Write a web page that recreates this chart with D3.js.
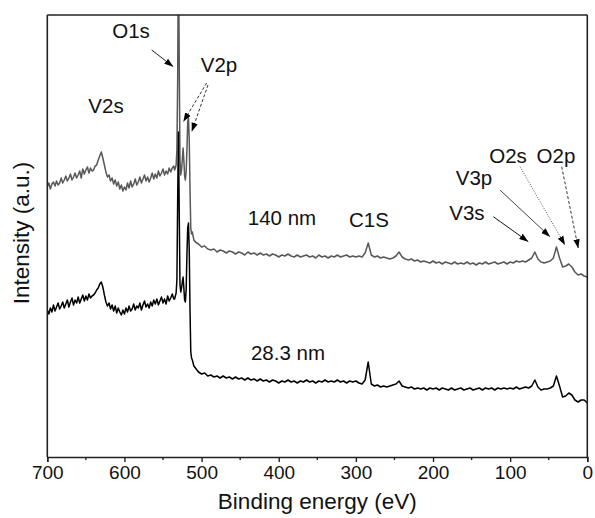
<!DOCTYPE html>
<html><head><meta charset="utf-8">
<script src="https://cdn.jsdelivr.net/npm/d3@7"></script>
<style>body{margin:0;background:#fff;} text{font-family:"Liberation Sans", Arial, sans-serif;}</style>
</head><body><svg id="chart" width="595" height="518"></svg>
<script>
// Binding energy (eV) sampling
const energy = [
700,698,696,694,692,690,688,686,684,682,680,678,676,674,672,670,668,666,664,662,
660,658,656,654,652,650,648,646,644,642,640,638,636,634,632,630,628,626,624,622,
620,618,616,614,612,610,608,606,604,602,600,598,596,594,592,590,588,586,584,582,
580,578,576,574,572,570,568,566,564,562,560,558,556,554,552,550,548,546,544,542,
540,538,536,
535,534,533,532,531,530,529,528,527,526,525,524,523,522,521,520,519,518,517,516,
515,514,513,512,511,510,
508,504,500,496,492,488,484,480,476,472,468,464,460,456,452,448,444,440,436,432,
428,424,420,416,412,408,404,400,396,392,388,384,380,376,372,368,364,360,356,352,
348,344,340,336,332,328,324,320,316,312,308,304,300,296,292,288,284,280,276,272,
268,264,260,256,252,248,244,240,236,232,228,224,220,216,212,208,204,200,196,192,
188,184,180,176,172,168,164,160,156,152,148,144,140,136,132,128,124,120,116,112,
108,104,100,96,92,88,84,80,76,72,68,64,60,56,52,48,44,40,36,32,
28,24,20,16,12,8,4,0];

// 140 nm film (grey curve), intensity a.u.
const thick140 = [
270,274,268,273,275,271,276,272,274,279,
274,277,281,276,279,283,277,280,284,279,
282,286,279,288,283,287,290,284,289,286,
287,291,292,297,301,305,299,292,285,280,
282,276,279,273,277,271,275,268,272,266,
270,267,274,269,276,270,273,278,272,275,
280,274,278,282,276,280,275,279,284,278,
283,279,286,281,284,288,282,286,283,289,
285,289,291,
287,289,292,307,377,520,397,297,282,287,297,309,297,281,277,285,307,335,339,317,
267,229,223,225,221,217,
215,213,210,211,208,207,208,205,207,206,
204,206,205,203,205,204,202,205,203,204,
202,204,202,203,201,203,202,200,202,201,
203,201,200,202,200,201,202,200,201,199,
202,200,201,199,201,200,202,200,201,202,
200,201,200,201,200,204,214,202,200,201,
199,200,199,198,199,201,205,200,198,197,
198,196,197,195,196,195,194,196,194,195,
193,195,194,193,195,193,194,193,195,193,
194,192,194,193,195,193,194,195,193,194,
195,193,195,194,196,195,196,195,197,199,
205,198,195,194,195,196,199,210,199,190,
191,193,190,185,182,183,181,180];

// 28.3 nm film (black curve), intensity a.u.
const thick28 = [
147,143,149,145,152,146,150,154,148,151,
155,149,153,157,150,155,159,152,157,154,
160,154,158,162,156,161,157,163,159,161,
162,164,167,169,173,175,170,162,155,151,
154,148,152,146,151,144,149,145,142,147,
143,149,145,151,146,148,153,147,151,149,
154,147,152,156,150,153,149,155,151,157,
153,158,152,156,160,154,158,153,161,156,
159,163,158,
158,161,164,177,257,325,247,172,165,169,175,180,169,157,155,167,202,229,234,207,
147,105,99,97,94,91,
89,85,83,84,81,82,80,81,79,81,
79,80,78,80,78,79,77,79,77,78,
76,78,76,77,75,77,76,74,76,75,
77,75,76,74,76,75,77,75,76,74,
76,75,77,75,76,75,77,75,76,74,
76,75,76,74,73,77,95,73,71,72,
70,71,70,71,72,73,76,71,70,69,
70,68,69,68,69,67,69,68,69,67,
69,68,67,69,67,68,69,67,68,69,
67,68,69,67,69,68,69,67,69,68,
69,68,69,68,70,68,69,70,69,71,
77,70,67,68,68,69,71,81,71,60,
61,64,62,57,55,57,57,54];

const xTicks = [700,600,500,400,300,200,100,0];
const xMinorTicks = [650,550,450,350,250,150,50];
const seriesNames = ["140 nm","28.3 nm"];
const seriesColors = ["#585858","#000000"];

// annotation labels: text, energy, intensity
const labelText = ["O1s","V2p","V2s","140 nm","C1S","28.3 nm","V3s","V3p","O2s","O2p"];
const labelE =    [591.5,477.4,623.9,395.8,283,388,156,146.9,102.8,40.6];
const labelI =    [419,385,344,232,230,97,237,272,294,294];

// arrows: from (e0,i0) to (e1,i1), dash style
const arrowE0 = [564.7,493.4,491.7,121.8,113.2,87.2,33.2];
const arrowI0 = [407,374,372,240.3,267,290.3,290.3];
const arrowE1 = [536.7,523.7,512.8,76.5,48.4,28.9,11.7];
const arrowI1 = [390.3,335.3,325.3,215.3,220.3,212,208.7];
const arrowDash = ["none","3,2","3,2","none","none","1,1.5","3,2"];
const arrowColor = ["#222","#333","#333","#111","#444","#555","#333"];

const W = 595, H = 518;
const m = {left:47.3, right:7.7, top:15, bottom:61};
const svg = d3.select("#chart");
const x = d3.scaleLinear().domain([700,0]).range([m.left, W-m.right]);
const y = d3.scaleLinear().domain([0,442]).range([H-m.bottom, m.top]);

const defs = svg.append("defs");
defs.append("clipPath").attr("id","clip")
  .append("rect").attr("x",m.left).attr("y",m.top)
  .attr("width",W-m.left-m.right).attr("height",H-m.top-m.bottom);
defs.append("marker").attr("id","ah").attr("viewBox","0 -4 9 8")
  .attr("refX",9).attr("refY",0).attr("markerWidth",9).attr("markerHeight",8)
  .attr("markerUnits","userSpaceOnUse").attr("orient","auto")
  .append("path").attr("d","M0,-3.2L9,0L0,3.2Z").attr("fill","#000");

const line = d3.line().x((d,i)=>x(energy[i])).y(d=>y(d));
const g = svg.append("g").attr("clip-path","url(#clip)");
[thick140, thick28].forEach((s,k)=>{
  g.append("path").datum(s).attr("d",line).attr("fill","none")
   .attr("stroke",seriesColors[k]).attr("stroke-width",1.5).attr("stroke-linejoin","round");
});

// frame
const frame = svg.append("g").attr("fill","none").attr("stroke","#222").attr("stroke-width",1.6);
frame.append("line").attr("x1",m.left).attr("x2",W-m.right).attr("y1",m.top).attr("y2",m.top);
frame.append("line").attr("x1",W-m.right).attr("x2",W-m.right).attr("y1",m.top).attr("y2",H-m.bottom);
frame.append("line").attr("x1",m.left).attr("x2",m.left).attr("y1",m.top).attr("y2",H-m.bottom);

// x axis
const ax = svg.append("g").attr("transform",`translate(0,${H-m.bottom})`)
  .call(d3.axisBottom(x).tickValues(xTicks).tickSize(5).tickPadding(4).tickFormat(d3.format("d")));
ax.select(".domain").attr("stroke","#222").attr("stroke-width",1.6);
ax.selectAll(".tick line").attr("stroke","#222").attr("stroke-width",1.4);
ax.selectAll("text").attr("font-size",19).attr("fill","#111")
  .attr("font-family",'"Liberation Sans", Arial, sans-serif');
svg.append("g").attr("transform",`translate(0,${H-m.bottom})`)
  .selectAll("line").data(xMinorTicks).join("line")
  .attr("x1",d=>x(d)).attr("x2",d=>x(d)).attr("y1",0).attr("y2",3)
  .attr("stroke","#222").attr("stroke-width",1.4);

svg.append("text").attr("x",(m.left+W-m.right)/2).attr("y",509)
  .attr("text-anchor","middle").attr("font-size",22.5).attr("fill","#111").text("Binding energy (eV)");
svg.append("text").attr("transform",`translate(29,233) rotate(-90)`)
  .attr("text-anchor","middle").attr("font-size",22.5).attr("fill","#111").text("Intensity (a.u.)");

// arrows
svg.append("g").selectAll("line").data(arrowE0).join("line")
  .attr("x1",(d,i)=>x(arrowE0[i])).attr("y1",(d,i)=>y(arrowI0[i]))
  .attr("x2",(d,i)=>x(arrowE1[i])).attr("y2",(d,i)=>y(arrowI1[i]))
  .attr("stroke",(d,i)=>arrowColor[i]).attr("stroke-width",1)
  .attr("stroke-dasharray",(d,i)=>arrowDash[i]).attr("marker-end","url(#ah)");

// labels
svg.append("g").selectAll("text").data(labelText).join("text")
  .attr("x",(d,i)=>x(labelE[i])).attr("y",(d,i)=>y(labelI[i]))
  .attr("text-anchor","middle").attr("font-size",20.5).attr("fill","#111").text(d=>d);
</script></body></html>
